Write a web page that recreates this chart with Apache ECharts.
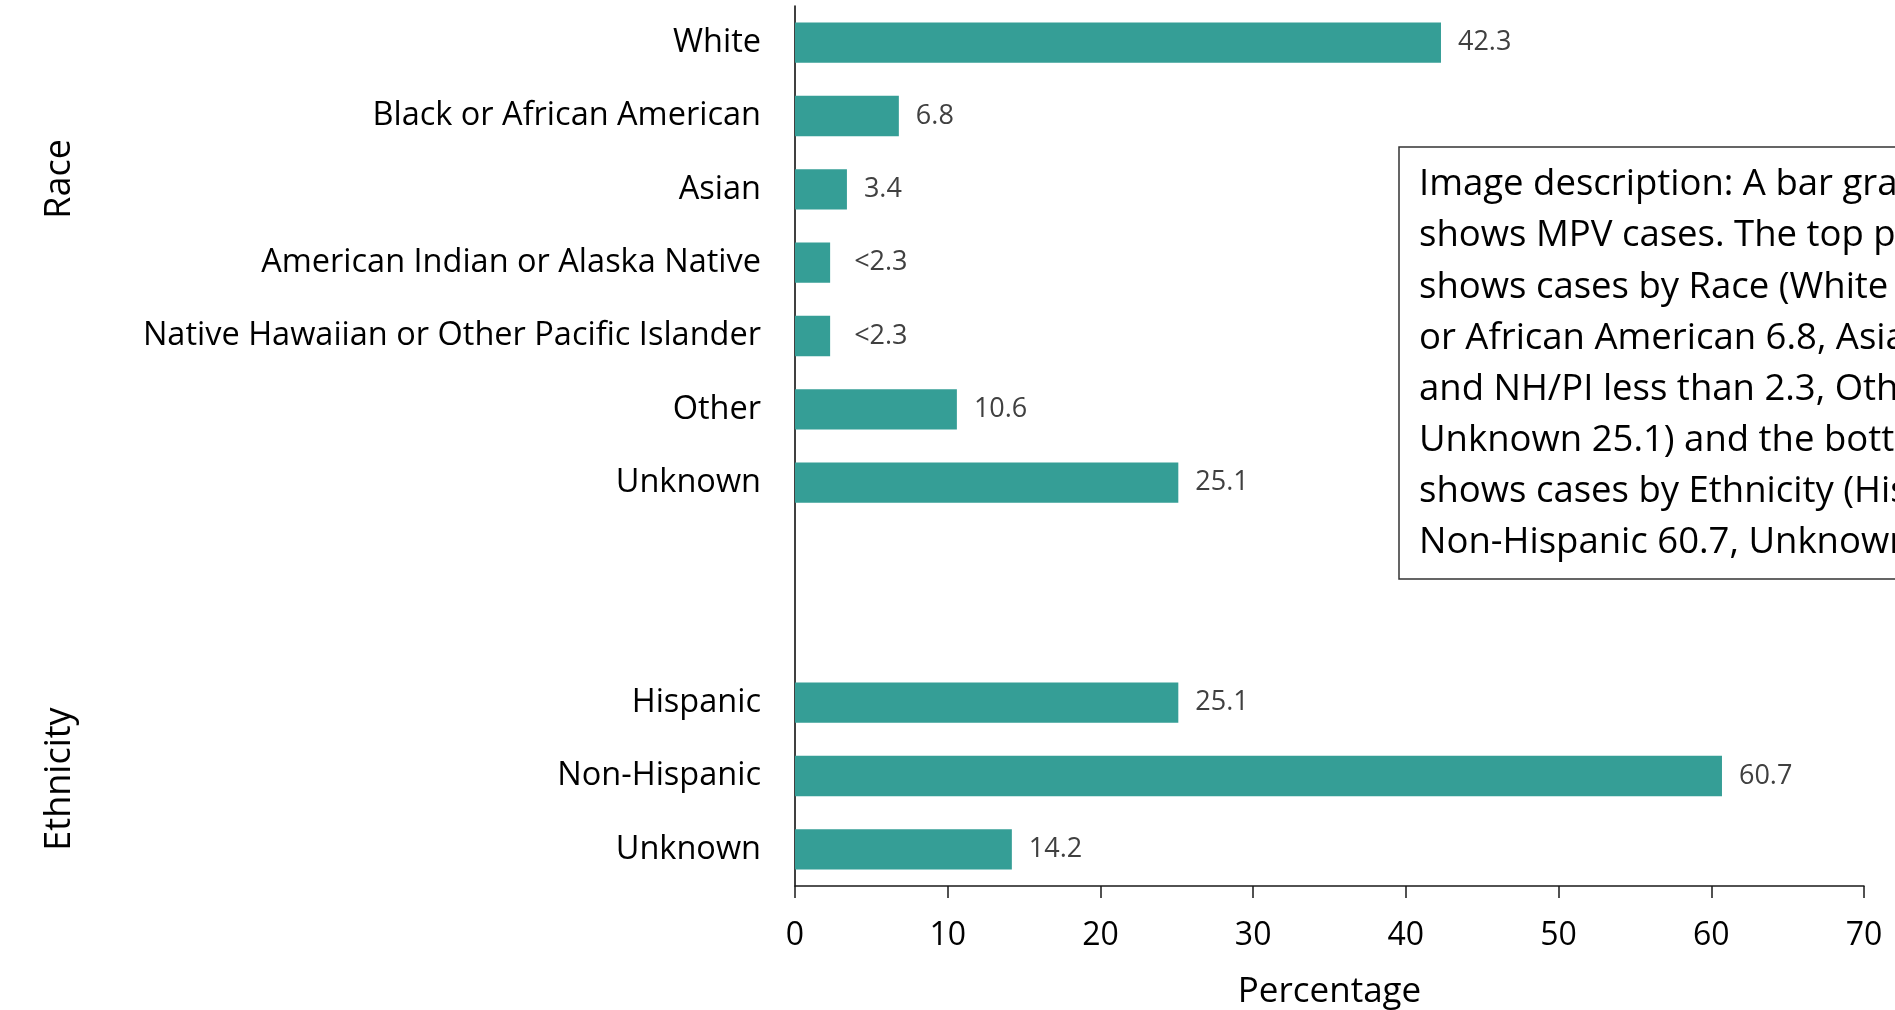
<!DOCTYPE html>
<html><head><meta charset="utf-8">
<script src="https://cdn.jsdelivr.net/npm/echarts@6/dist/echarts.min.js"></script>
<style>html,body{margin:0;padding:0;background:#fff}#c{width:1895px;height:1010px}</style>
</head><body><div id="c"></div>
<script>
const categories = ['White','Black or African American','Asian','American Indian or Alaska Native','Native Hawaiian or Other Pacific Islander','Other','Unknown','','','Hispanic','Non-Hispanic','Unknown'];
const values = [42.3, 6.8, 3.4, 2.3, 2.3, 10.6, 25.1, null, null, 25.1, 60.7, 14.2];
const valueLabels = ['42.3','6.8','3.4',' <2.3',' <2.3','10.6','25.1','','','25.1','60.7','14.2'];
const xTicks = [0,10,20,30,40,50,60,70];
const groupLabels = ['Race','Ethnicity'];
const descLines = [
 'Image description: A bar graph',
 'shows MPV cases. The top panel',
 'shows cases by Race (White 42.3, Black',
 'or African American 6.8, Asian 3.4, AI/AN',
 'and NH/PI less than 2.3, Other 10.6,',
 'Unknown 25.1) and the bottom panel',
 'shows cases by Ethnicity (Hispanic 25.1,',
 'Non-Hispanic 60.7, Unknown 14.2).'
];
const FONT = '"Open Sans", "Noto Sans", sans-serif';
const chart = echarts.init(document.getElementById('c'));
chart.setOption({
  animation:false,
  grid:{left:795,right:31,top:6,bottom:124,containLabel:false,outerBoundsMode:'none'},
  xAxis:{type:'value',min:xTicks[0],max:xTicks[xTicks.length-1],interval:10,
    splitLine:{show:false},
    axisLine:{show:true,lineStyle:{color:'#1a1a1a',width:1.5}},
    axisTick:{show:true,length:12,lineStyle:{color:'#1a1a1a',width:1.5}},
    axisLabel:{color:'#000',fontSize:32,fontFamily:FONT,margin:34},
    name:'Percentage',nameLocation:'middle',nameGap:89,
    nameTextStyle:{color:'#000',fontSize:35,fontFamily:FONT}},
  yAxis:{type:'category',inverse:true,data:categories,
    axisLine:{show:true,lineStyle:{color:'#000',width:1.5}},
    axisTick:{show:false},
    axisLabel:{color:'#000',fontSize:32.5,fontFamily:FONT,margin:34}},
  series:[{type:'bar',data:values,barWidth:'55%',
    itemStyle:{color:'#359E96'},
    label:{show:true,position:'right',distance:17,color:'#404040',fontSize:27,fontFamily:FONT,
      formatter:p=>valueLabels[p.dataIndex]}}],
  graphic:[
    {type:'text',x:60,y:179,rotation:Math.PI/2,
      style:{text:groupLabels[0],fill:'#000',font:'36px '+FONT,align:'center',verticalAlign:'middle'}},
    {type:'text',x:60,y:779,rotation:Math.PI/2,
      style:{text:groupLabels[1],fill:'#000',font:'36px '+FONT,align:'center',verticalAlign:'middle'}},
    {type:'rect',shape:{x:1399,y:147,width:700,height:432},
      style:{fill:'#fff',stroke:'#333',lineWidth:1.5}},
    ...descLines.map((t,i)=>({type:'text',x:1419,y:185+i*51.1,
      style:{text:t,fill:'#000',font:'36.5px '+FONT,verticalAlign:'middle'}}))
  ]
});
</script></body></html>
